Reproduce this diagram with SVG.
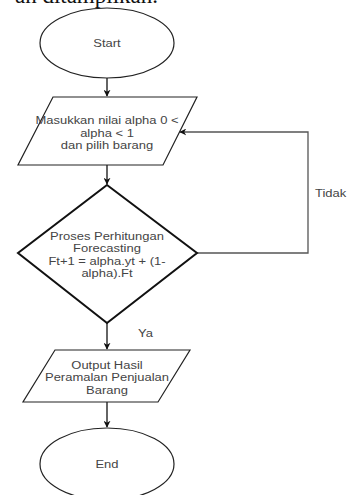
<svg xmlns="http://www.w3.org/2000/svg" width="350" height="495" viewBox="0 0 350 495">
<defs>
<style>
.shape{fill:#fff;stroke:#222;stroke-width:1.2}
.dia{fill:#fff;stroke:#111;stroke-width:2}
.t{font-family:"Liberation Sans",Arial,sans-serif;font-size:11px;fill:#444;text-anchor:middle}
.lbl{font-family:"Liberation Sans",Arial,sans-serif;font-size:11px;fill:#444}
.c{fill:none;stroke:#111;stroke-width:1.3}
.loop{fill:none;stroke:#555;stroke-width:1.3}
</style>
<marker id="arr" viewBox="0 0 10 10" refX="9" refY="5" markerWidth="7" markerHeight="7" orient="auto" markerUnits="userSpaceOnUse">
<path d="M0,0 L10,5 L0,10 L3,5 Z" fill="#111"/>
</marker>
</defs>
<rect width="350" height="495" fill="#fff"/>
<text x="158" y="3" text-anchor="end" font-family="'Liberation Serif',serif" font-size="23" fill="#111">an ditampilkan.</text>
<g id="connectors">
<line class="c" x1="107" y1="78" x2="107" y2="96" marker-end="url(#arr)"/>
<line class="c" x1="107" y1="165" x2="107" y2="184" marker-end="url(#arr)"/>
<path class="loop" d="M197,253 H308 V132 H180" marker-end="url(#arr)"/>
<line class="c" x1="107" y1="323" x2="107" y2="349" marker-end="url(#arr)"/>
<line class="c" x1="107" y1="402" x2="107" y2="427" marker-end="url(#arr)"/>
<text class="lbl" x="315" y="197" transform="matrix(1.18,0,0,1,-56.7,0)">Tidak</text>
<text class="lbl" x="138" y="337" transform="matrix(1.18,0,0,1,-24.84,0)">Ya</text>
</g>
<g id="start">
<ellipse class="shape" cx="107" cy="43" rx="67" ry="35"/>
<g transform="matrix(1.18,0,0,1,-19.26,0)">
<text class="t" x="107" y="47">Start</text>
</g>
</g>
<g id="input">
<polygon class="shape" points="53,97 197,97 163,165 18,165"/>
<g transform="matrix(1.18,0,0,1,-19.26,0)">
<text class="t" x="107" y="124.5">Masukkan nilai alpha 0 &lt;</text>
<text class="t" x="107" y="137">alpha &lt; 1</text>
<text class="t" x="107" y="149">dan pilih barang</text>
</g>
</g>
<g id="process">
<polygon class="dia" points="107,185 197,253 107,323 18,253"/>
<g transform="matrix(1.18,0,0,1,-19.26,0)">
<text class="t" x="107" y="240">Proses Perhitungan</text>
<text class="t" x="107" y="252.5">Forecasting</text>
<text class="t" x="107" y="265">Ft+1 = alpha.yt + (1-</text>
<text class="t" x="107" y="277.5">alpha).Ft</text>
</g>
</g>
<g id="output">
<polygon class="shape" points="55,350 190,350 158,402 23,402"/>
<g transform="matrix(1.18,0,0,1,-19.26,0)">
<text class="t" x="107" y="369">Output Hasil</text>
<text class="t" x="107" y="381.5">Peramalan Penjualan</text>
<text class="t" x="107" y="394">Barang</text>
</g>
</g>
<g id="end">
<ellipse class="shape" cx="107" cy="464" rx="67" ry="36"/>
<g transform="matrix(1.18,0,0,1,-19.26,0)">
<text class="t" x="107" y="468">End</text>
</g>
</g>
</svg>
